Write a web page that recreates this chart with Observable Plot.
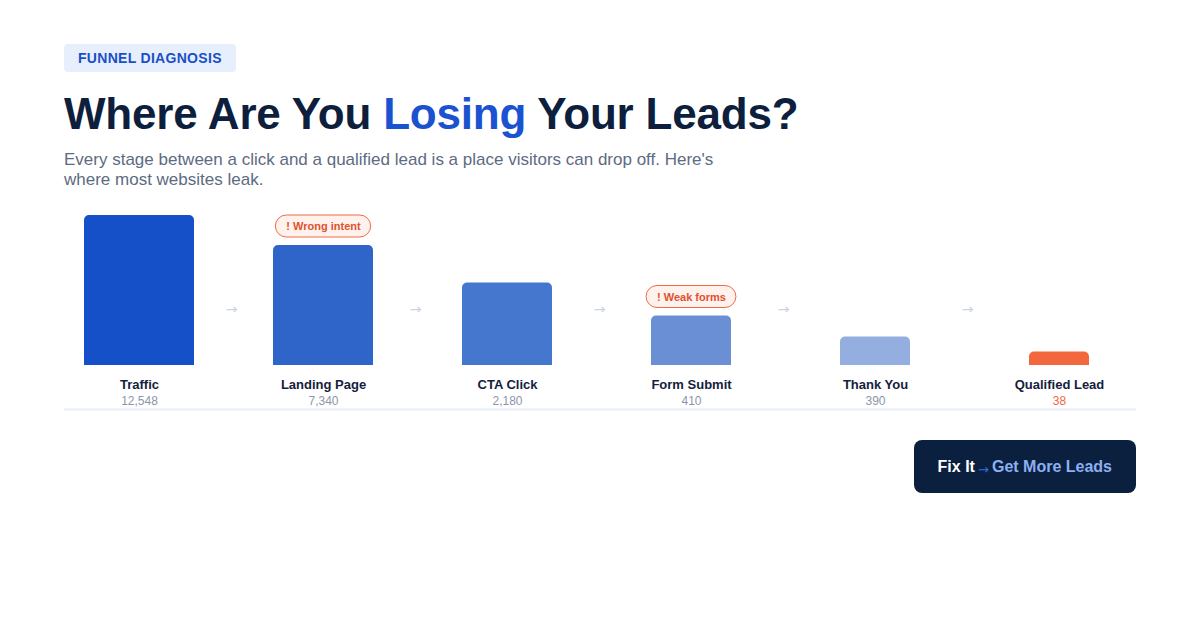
<!DOCTYPE html>
<html>
<head>
<meta charset="utf-8">
<script src="https://cdn.jsdelivr.net/npm/d3@7"></script>
<script src="https://cdn.jsdelivr.net/npm/@observablehq/plot@0.6"></script>
<style>
  html, body { margin: 0; padding: 0; background: #ffffff; }
  body { font-family: "Liberation Sans", Arial, Helvetica, sans-serif; width: 1200px; height: 628px; overflow: hidden; }
  .wrap { padding: 44px 64px 0 64px; }
  .tag { display: inline-block; height: 28px; line-height: 28px; padding: 0 14px; background: #e7effd; color: #1a4fc8;
         font-weight: 700; font-size: 14px; letter-spacing: 0.3px; border-radius: 4px; }
  h1 { margin: 17px 0 0 0; font-size: 44px; line-height: 50px; font-weight: 700; color: #0d1f3d; letter-spacing: -0.2px; }
  h1 .hl { color: #1a52d0; }
  .sub { margin: 11px 0 0 0; font-size: 17px; line-height: 20px; color: #5d6b82; max-width: 680px; }
  #chart { margin: 15px 0 0 -64px; width: 1200px; height: 215px; }
  #chart svg { max-width: none; display: block; }
  .cta-row { display: flex; justify-content: flex-end; margin-top: 20px; }
  .cta { display: inline-flex; align-items: center; height: 53px; padding: 0 24px; background: #0b1f3f; border-radius: 8px;
         font-weight: 700; font-size: 16px; color: #ffffff; white-space: pre; }
  .cta .arr { color: #2f6ee0; font-family: "DejaVu Sans", sans-serif; font-weight: 400; font-size: 13px; position: relative; top: 3px; margin: 0 3px 0 -1px; }
  .cta .go { color: #8cb0f2; }
</style>
</head>
<body>
<div class="wrap">
  <div class="tag">FUNNEL DIAGNOSIS</div>
  <h1>Where Are You <span class="hl">Losing</span> Your Leads?</h1>
  <p class="sub">Every stage between a click and a qualified lead is a place visitors can drop off. Here's where most websites leak.</p>
  <div id="chart"></div>
  <div class="cta-row"><div class="cta">Fix It<span class="arr"> →</span><span class="go">Get More Leads</span></div></div>
</div>
<script>
// ---- data ----
const stages = ["Traffic", "Landing Page", "CTA Click", "Form Submit", "Thank You", "Qualified Lead"];
const counts = [12548, 7340, 2180, 410, 390, 38];
const barLevels = [100, 80, 55, 33, 19, 9];           // relative bar height (%) shown in the funnel
const warnings = ["", "! Wrong intent", "", "! Weak forms", "", ""];

// ---- styles ----
const palette = ["#1550c8", "#2f65c8", "#4677cf", "#6a8fd5", "#94afdf", "#f2673e"];
const FONT = "'Liberation Sans', Arial, Helvetica, sans-serif";
const stepPx = (1059 - 139) / 5;

const rows = stages.map((s, i) => ({
  i, stage: s, count: counts[i], level: barLevels[i], warn: warnings[i],
  color: palette[i], half: (55 - 5 * i) / stepPx,
  last: i === stages.length - 1
}));
const gaps = rows.slice(0, -1).map(d => ({ x: d.i + 0.5 }));
const badges = rows.filter(d => d.warn);

const measure = (() => {
  const ctx = document.createElement("canvas").getContext("2d");
  ctx.font = `bold 11px ${FONT}`;
  return t => ctx.measureText(t).width;
})();

const chart = Plot.plot({
  width: 1200, height: 215,
  marginTop: 10, marginBottom: 55, marginLeft: 64, marginRight: 64,
  style: { fontFamily: FONT, background: "transparent", overflow: "visible", maxWidth: "none" },
  x: { domain: [0, 5], range: [139, 1059], axis: null },
  y: { domain: [0, 100], axis: null },
  color: { type: "identity" },
  marks: [
    Plot.ruleY([0], { dy: 44, stroke: "#e6eef9", strokeWidth: 2 }),
    Plot.rectY(rows, { x1: d => d.i - d.half, x2: d => d.i + d.half, y1: 0, y2: "level", fill: "color", ry2: 5 }),
    Plot.text(gaps, { x: "x", y: 0, dy: -56, text: () => "→", fill: "#c8d3e6", fontSize: 14, fontFamily: "DejaVu Sans" }),
    Plot.text(rows, { x: "i", y: 0, dy: 19, text: "stage", fill: "#14213d", fontSize: 13, fontWeight: 700 }),
    Plot.text(rows, { x: "i", y: 0, dy: 36, text: d => d3.format(",")(d.count),
      fill: d => d.last ? "#f2673e" : "#8c96aa", fontWeight: d => d.last ? 700 : 400, fontSize: 12 }),
    Plot.text(badges, {
      x: "i", y: "level", dy: -19, text: "warn", fill: "#e0512f", fontSize: 11, fontWeight: 700,
      render(index, scales, values, dimensions, context, next) {
        const g = next(index, scales, values, dimensions, context);
        const ns = "http://www.w3.org/2000/svg";
        const bg = document.createElementNS(ns, "g");
        for (const k of index) {
          const w = measure(badges[k].warn) + 21;
          const cx = values.x[k], cy = values.y[k] - 19;
          const r = document.createElementNS(ns, "rect");
          r.setAttribute("x", cx - w / 2); r.setAttribute("y", cy - 11);
          r.setAttribute("width", w); r.setAttribute("height", 22);
          r.setAttribute("rx", 11);
          r.setAttribute("fill", "#fff1ec"); r.setAttribute("stroke", "#f26a45"); r.setAttribute("stroke-width", 1);
          bg.appendChild(r);
        }
        const wrap = document.createElementNS(ns, "g");
        wrap.appendChild(bg); wrap.appendChild(g);
        return wrap;
      }
    })
  ]
});
document.getElementById("chart").appendChild(chart);
</script>
</body>
</html>
